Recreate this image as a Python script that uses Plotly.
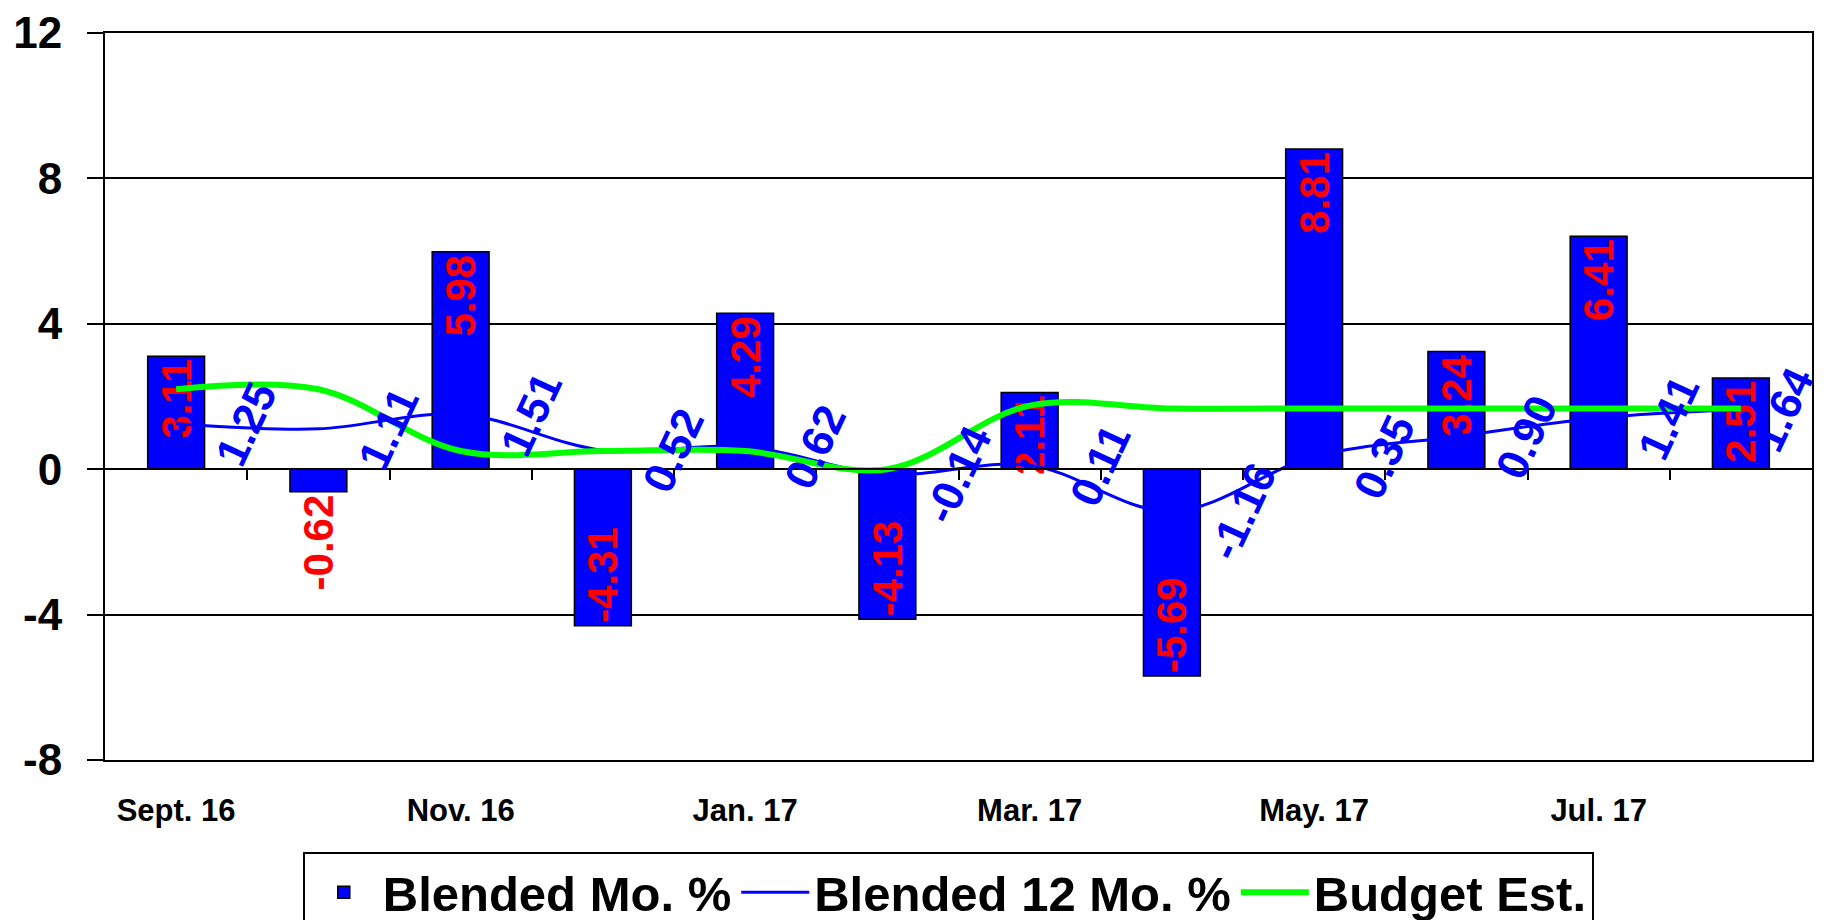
import plotly.graph_objects as go

# ── Data ─────────────────────────────────────────────────────────────────────
months = ["Sept. 16", "Oct. 16", "Nov. 16", "Dec. 16", "Jan. 17", "Feb. 17",
          "Mar. 17", "Apr. 17", "May. 17", "Jun. 17", "Jul. 17", "Aug. 17"]
blended_mo = [3.11, -0.62, 5.98, -4.31, 4.29, -4.13, 2.11, -5.69, 8.81, 3.24, 6.41, 2.51]
blended_12mo = [1.25, 1.11, 1.51, 0.52, 0.62, -0.14, 0.11, -1.16, 0.35, 0.90, 1.41, 1.64]
budget_est = [2.20, 2.20, 0.50, 0.50, 0.50, 0.00, 1.75, 1.67, 1.67, 1.67, 1.67, 1.67]
y_ticks = [-8, -4, 0, 4, 8, 12]

# ── Theme ────────────────────────────────────────────────────────────────────
FONT = "Liberation Sans, Arial, sans-serif"
BLUE = "#0000FF"
GREEN = "#00FF00"
RED = "#FF0000"

idx = list(range(len(months)))
x_range = [-0.5, len(months) - 0.5]

fig = go.Figure()

fig.add_trace(go.Bar(
    x=idx, y=blended_mo,
    name="Blended Mo. %",
    width=0.4,
    marker=dict(color=BLUE, line=dict(color="black", width=1.5)),
    text=[f"{v:.2f}" for v in blended_mo],
    textposition=["outside" if abs(v) < 1 else "inside" for v in blended_mo],
    insidetextanchor="end",
    textangle=-90,
    constraintext="none",
    textfont=dict(family=FONT, size=42, color=RED, weight="bold"),
    cliponaxis=False,
))

fig.add_trace(go.Scatter(
    x=idx, y=blended_12mo,
    name="Blended 12 Mo. %",
    mode="lines",
    line=dict(color=BLUE, width=3, shape="spline", smoothing=1),
))

fig.add_trace(go.Scatter(
    x=idx, y=budget_est,
    name="Budget Est.",
    mode="lines",
    xaxis="x2",
    line=dict(color=GREEN, width=6, shape="spline", smoothing=1),
))

# rotated value labels for the 12-month line, sitting right of each point
for i, v in zip(idx, blended_12mo):
    fig.add_annotation(
        x=i, y=v, text=f"{v:.2f}",
        showarrow=False,
        textangle=-65,
        xshift=70 if i < len(idx) - 1 else 42,
        font=dict(family=FONT, size=44, color=BLUE, weight="bold"),
    )

# page body keeps an 8px margin, so the figure is sized to fit the window
fig.update_layout(
    width=1824, height=912,
    margin=dict(l=97, r=20, t=25, b=160, autoexpand=False),
    paper_bgcolor="white",
    plot_bgcolor="white",
    font=dict(family=FONT, color="black"),
    bargap=0.6,
    showlegend=True,
    legend=dict(
        orientation="h",
        x=0.494, xanchor="center",
        yref="container",
        y=0.0746, yanchor="top",
        bgcolor="white",
        bordercolor="black", borderwidth=2,
        itemwidth=68,
        font=dict(family=FONT, size=49, color="black", weight="bold"),
    ),
    xaxis=dict(
        range=x_range,
        tickvals=idx[::2],
        ticktext=months[::2],
        ticks="",
        showgrid=False,
        zeroline=False,
        showline=True, mirror=True,
        linecolor="black", linewidth=2,
        automargin=False,
        ticklabelstandoff=22,
        tickfont=dict(family=FONT, size=31, color="black", weight="bold"),
    ),
    xaxis2=dict(
        range=x_range,
        overlaying="x",
        anchor="free",
        position=0.4,
        tickvals=[i + 0.5 for i in idx[:-1]],
        ticks="outside", ticklen=10, tickwidth=1.5, tickcolor="black",
        showticklabels=False,
        showgrid=False,
        zeroline=False,
        showline=True, linecolor="black", linewidth=2,
    ),
    yaxis=dict(
        range=[y_ticks[0], y_ticks[-1]],
        tickvals=y_ticks,
        ticktext=[str(t) for t in y_ticks],
        ticks="outside", ticklen=16, tickwidth=1.5, tickcolor="black",
        showgrid=True, gridcolor="black", gridwidth=1.5,
        zeroline=False,
        showline=True, mirror=True,
        linecolor="black", linewidth=2,
        automargin=False,
        ticklabeloverflow="allow",
        ticklabelstandoff=16,
        tickfont=dict(family=FONT, size=44, color="black", weight="bold"),
    ),
)

fig.write_html("out.html")
